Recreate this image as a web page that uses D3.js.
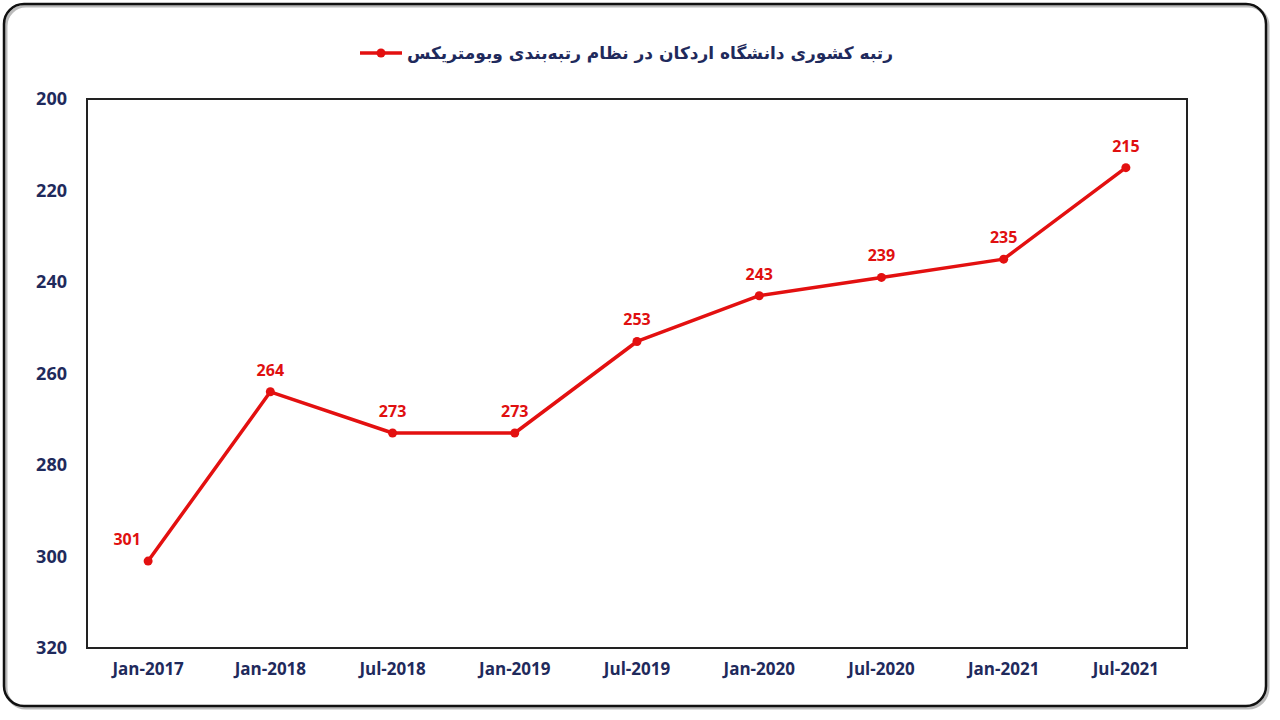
<!DOCTYPE html>
<html>
<head>
<meta charset="utf-8">
<script src="https://d3js.org/d3.v7.min.js"></script>
<style>
  body { margin: 0; background: #fff; }
  .axis text { font: bold 17px "Open Sans", sans-serif; fill: #1f2a5c; }
  .axis.y text { font-size: 18px; }
  .axis path, .axis line { display: none; }
  .lbl { font: bold 16px "Open Sans", sans-serif; fill: #e01010; text-anchor: middle; }
  .legend text { font: bold 17px "DejaVu Sans", sans-serif; fill: #1f2a5c; }
</style>
</head>
<body>
<svg id="chart"></svg>
<script>
var categories = ['Jan-2017', 'Jan-2018', 'Jul-2018', 'Jan-2019', 'Jul-2019', 'Jan-2020', 'Jul-2020', 'Jan-2021', 'Jul-2021'];
var ranks = [301, 264, 273, 273, 253, 243, 239, 235, 215];
var yTicks = [200, 220, 240, 260, 280, 300, 320];
var seriesName = 'رتبه کشوری دانشگاه اردکان در نظام رتبه‌بندی وبومتریکس';

var W = 1280, H = 720;
var margin = { left: 87, right: 93, top: 99, bottom: 72 };
var width = W - margin.left - margin.right;
var height = H - margin.top - margin.bottom;
var red = '#e31010';

var svg = d3.select('#chart').attr('width', W).attr('height', H);

// outer frame
svg.append('rect')
  .attr('x', 6).attr('y', 6).attr('width', 1262).attr('height', 702)
  .attr('rx', 20)
  .attr('fill', 'none').attr('stroke', '#bbb').attr('stroke-width', 3);
svg.append('rect')
  .attr('x', 4).attr('y', 4).attr('width', 1262).attr('height', 702)
  .attr('rx', 20)
  .attr('fill', 'none').attr('stroke', '#111').attr('stroke-width', 2.5);

var x = d3.scaleBand().domain(categories).range([0, width]);
var y = d3.scaleLinear().domain([200, 320]).range([0, height]);

var chart = svg.append('g')
  .attr('transform', `translate(${ margin.left }, ${ margin.top })`);

chart.append('rect')
  .attr('width', width).attr('height', height)
  .attr('fill', 'none').attr('stroke', '#222').attr('stroke-width', 2);

chart.append('g')
  .attr('class', 'axis y')
  .attr('transform', 'translate(-20, 0)')
  .call(d3.axisLeft(y).tickValues(yTicks).tickSize(0).tickPadding(0));

chart.append('g')
  .attr('class', 'axis x')
  .attr('transform', `translate(0, ${ height + 15 })`)
  .call(d3.axisBottom(x).tickSize(0).tickPadding(0));

var cx = (d, i) => x(categories[i]) + x.bandwidth() / 2;

chart.append('path')
  .datum(ranks)
  .attr('fill', 'none')
  .attr('stroke', red)
  .attr('stroke-width', 3.5)
  .attr('stroke-linejoin', 'round')
  .attr('d', d3.line().x(cx).y(d => y(d)));

chart.selectAll('.dot')
  .data(ranks)
  .enter().append('circle')
    .attr('class', 'dot')
    .attr('cx', cx)
    .attr('cy', d => y(d))
    .attr('r', 4.5)
    .attr('fill', red);

// first label sits up-left of its point, the rest centred above
chart.selectAll('.lbl')
  .data(ranks)
  .enter().append('text')
    .attr('class', 'lbl')
    .attr('x', (d, i) => cx(d, i) - (i === 0 ? 21 : 0))
    .attr('y', d => y(d) - 16)
    .text(d => d);

// legend
var legend = svg.append('g').attr('class', 'legend');
legend.append('line')
  .attr('x1', 360).attr('x2', 402).attr('y1', 53).attr('y2', 53)
  .attr('stroke', red).attr('stroke-width', 3.5);
legend.append('circle')
  .attr('cx', 381).attr('cy', 53).attr('r', 4.5).attr('fill', red);
legend.append('text')
  .attr('x', 650).attr('y', 59)
  .attr('text-anchor', 'middle')
  .text(seriesName);
</script>
</body>
</html>
